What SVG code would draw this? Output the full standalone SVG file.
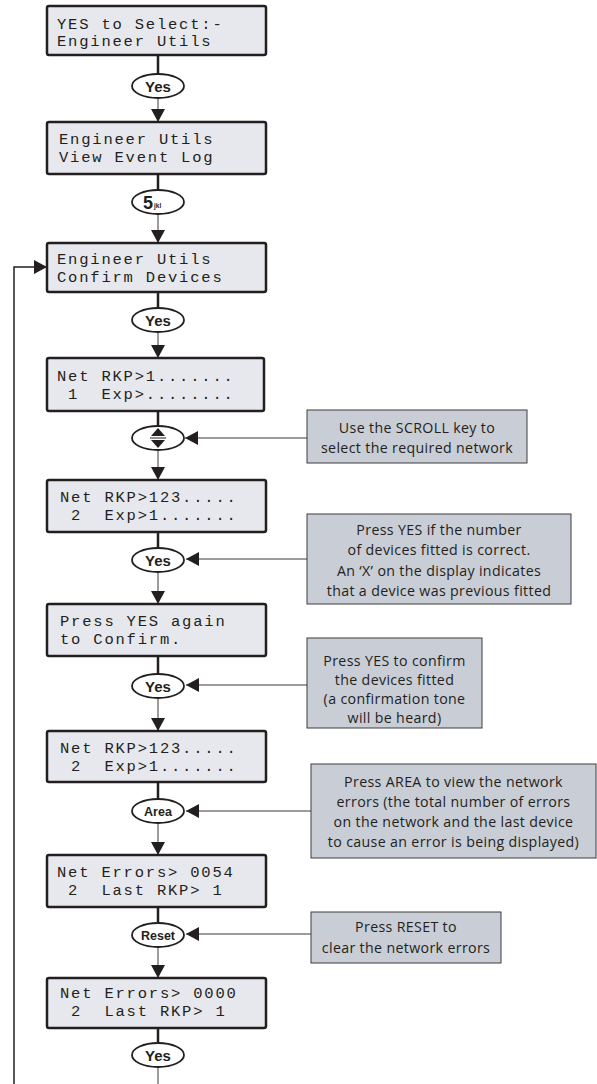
<svg xmlns="http://www.w3.org/2000/svg" width="597" height="1084" viewBox="0 0 597 1084">
<style>
.lcd{fill:#e7e8ed;stroke:#231f20;stroke-width:2.5}
.lcdt{font-family:"Liberation Mono","DejaVu Sans Mono",monospace;font-size:15.5px;letter-spacing:1.8px;fill:#231f20}
.key{fill:#ffffff;stroke:#231f20;stroke-width:1.8}
.keyt{font-family:"Liberation Sans",Arial,sans-serif;font-weight:bold;font-size:15px;fill:#231f20;text-anchor:middle}
.keys{font-family:"Liberation Sans",Arial,sans-serif;font-weight:bold;font-size:12.5px;fill:#231f20;text-anchor:middle}
.note{fill:#c9cdd5;stroke:#3c3c3c;stroke-width:1}
.notet{font-family:"Open Sans","Noto Sans",sans-serif;font-size:14.2px;letter-spacing:0.35px;fill:#231f20;text-anchor:middle}
.thick{stroke:#231f20;stroke-width:2.5;fill:none}
.thin{stroke:#3a3a3a;stroke-width:1;fill:none}
.loop{stroke:#231f20;stroke-width:1.5;fill:none}
</style>
<defs>
<marker id="ah" viewBox="0 0 13 14" refX="13" refY="7" markerUnits="userSpaceOnUse" markerWidth="13" markerHeight="14" orient="auto">
<path d="M0,0 L13,7 L0,14 z" fill="#231f20"/>
</marker>
</defs>
<rect width="597" height="1084" fill="#ffffff"/>

<g id="connectors">
<line class="thick" x1="158" y1="55" x2="158" y2="74"/>
<line class="thin" x1="158" y1="98" x2="158" y2="122" marker-end="url(#ah)"/>
<line class="thick" x1="158" y1="174" x2="158" y2="190"/>
<line class="thin" x1="158" y1="214" x2="158" y2="243" marker-end="url(#ah)"/>
<line class="thick" x1="158" y1="292" x2="158" y2="308"/>
<line class="thin" x1="158" y1="332" x2="158" y2="358" marker-end="url(#ah)"/>
<line class="thick" x1="158" y1="411" x2="158" y2="426"/>
<line class="thin" x1="158" y1="450" x2="158" y2="480" marker-end="url(#ah)"/>
<line class="thick" x1="158" y1="532" x2="158" y2="548"/>
<line class="thin" x1="158" y1="572" x2="158" y2="604" marker-end="url(#ah)"/>
<line class="thick" x1="158" y1="656" x2="158" y2="674"/>
<line class="thin" x1="158" y1="698" x2="158" y2="731" marker-end="url(#ah)"/>
<line class="thick" x1="158" y1="782" x2="158" y2="799"/>
<line class="thin" x1="158" y1="823" x2="158" y2="855" marker-end="url(#ah)"/>
<line class="thick" x1="158" y1="907" x2="158" y2="923"/>
<line class="thin" x1="158" y1="947" x2="158" y2="978" marker-end="url(#ah)"/>
<line class="thick" x1="158" y1="1028" x2="158" y2="1043"/>
<line class="thin" x1="158" y1="1067" x2="158" y2="1084"/>
<polyline class="loop" points="14,1084 14,267 47,267" marker-end="url(#ah)"/>
<line class="thin" x1="307" y1="438" x2="185" y2="438" marker-end="url(#ah)"/>
<line class="thin" x1="307" y1="559" x2="186" y2="559" marker-end="url(#ah)"/>
<line class="thin" x1="307" y1="685" x2="186" y2="685" marker-end="url(#ah)"/>
<line class="thin" x1="311" y1="811" x2="186" y2="811" marker-end="url(#ah)"/>
<line class="thin" x1="311" y1="934" x2="186" y2="934" marker-end="url(#ah)"/>
</g>

<g id="lcd1"><rect class="lcd" x="47" y="6" width="219" height="49" rx="2"/>
<text class="lcdt" x="57" y="29" xml:space="preserve">YES to Select:-</text>
<text class="lcdt" x="57" y="46" xml:space="preserve">Engineer Utils</text></g>

<g id="key1"><ellipse class="key" cx="158" cy="86" rx="26" ry="12"/><text class="keyt" x="158" y="91.5">Yes</text></g>

<g id="lcd2"><rect class="lcd" x="47" y="122" width="219" height="52" rx="2"/>
<text class="lcdt" x="59" y="144" xml:space="preserve">Engineer Utils</text>
<text class="lcdt" x="59" y="162" xml:space="preserve">View Event Log</text></g>

<g id="key2"><ellipse class="key" cx="158" cy="202" rx="26" ry="12"/>
<text x="148" y="208.5" font-family="Liberation Sans, Arial, sans-serif" font-weight="bold" font-size="18" fill="#231f20" text-anchor="middle">5</text>
<text x="154" y="208" font-family="Liberation Sans, Arial, sans-serif" font-weight="bold" font-size="6.5" fill="#231f20">jkl</text></g>

<g id="lcd3"><rect class="lcd" x="47" y="243" width="219" height="49" rx="2"/>
<text class="lcdt" x="57" y="264" xml:space="preserve">Engineer Utils</text>
<text class="lcdt" x="57" y="282" xml:space="preserve">Confirm Devices</text></g>

<g id="key3"><ellipse class="key" cx="158" cy="320" rx="26" ry="12"/><text class="keyt" x="158" y="325.5">Yes</text></g>

<g id="lcd4"><rect class="lcd" x="47" y="358" width="217" height="53" rx="2"/>
<text class="lcdt" x="57" y="381" xml:space="preserve">Net RKP&gt;1.......</text>
<text class="lcdt" x="57" y="399" xml:space="preserve"> 1  Exp&gt;........</text></g>

<g id="key4"><ellipse class="key" cx="158" cy="438" rx="26" ry="12"/>
<path d="M151,436 L158,428 L165,436 z M151,440 L158,448 L165,440 z" fill="#231f20"/>
<line x1="150" y1="438" x2="166" y2="438" stroke="#231f20" stroke-width="1"/></g>

<g id="lcd5"><rect class="lcd" x="47" y="480" width="219" height="52" rx="2"/>
<text class="lcdt" x="60" y="502" xml:space="preserve">Net RKP&gt;123.....</text>
<text class="lcdt" x="60" y="520" xml:space="preserve"> 2  Exp&gt;1.......</text></g>

<g id="key5"><ellipse class="key" cx="158" cy="560" rx="26" ry="12"/><text class="keyt" x="158" y="565.5">Yes</text></g>

<g id="lcd6"><rect class="lcd" x="47" y="604" width="219" height="52" rx="2"/>
<text class="lcdt" x="60" y="626" xml:space="preserve">Press YES again</text>
<text class="lcdt" x="60" y="644" xml:space="preserve">to Confirm.</text></g>

<g id="key6"><ellipse class="key" cx="158" cy="686" rx="26" ry="12"/><text class="keyt" x="158" y="691.5">Yes</text></g>

<g id="lcd7"><rect class="lcd" x="47" y="731" width="219" height="51" rx="2"/>
<text class="lcdt" x="60" y="753" xml:space="preserve">Net RKP&gt;123.....</text>
<text class="lcdt" x="60" y="771" xml:space="preserve"> 2  Exp&gt;1.......</text></g>

<g id="key7"><ellipse class="key" cx="158" cy="811" rx="26" ry="12"/><text class="keys" x="158" y="815.5">Area</text></g>

<g id="lcd8"><rect class="lcd" x="47" y="855" width="219" height="52" rx="2"/>
<text class="lcdt" x="57" y="877" xml:space="preserve">Net Errors&gt; 0054</text>
<text class="lcdt" x="57" y="895" xml:space="preserve"> 2  Last RKP&gt; 1</text></g>

<g id="key8"><ellipse class="key" cx="158" cy="935" rx="26" ry="12"/><text class="keys" x="158" y="939.5">Reset</text></g>

<g id="lcd9"><rect class="lcd" x="47" y="978" width="219" height="50" rx="2"/>
<text class="lcdt" x="60" y="998" xml:space="preserve">Net Errors&gt; 0000</text>
<text class="lcdt" x="60" y="1016" xml:space="preserve"> 2  Last RKP&gt; 1</text></g>

<g id="key9"><ellipse class="key" cx="158" cy="1055" rx="26" ry="12"/><text class="keyt" x="158" y="1060.5">Yes</text></g>

<g id="note1"><rect class="note" x="307" y="410" width="220" height="53"/>
<text class="notet" x="417" y="433">Use the SCROLL key to</text>
<text class="notet" x="417" y="453">select the required network</text></g>

<g id="note2"><rect class="note" x="307" y="514" width="264" height="90"/>
<text class="notet" x="439" y="535">Press YES if the number</text>
<text class="notet" x="439" y="555">of devices fitted is correct.</text>
<text class="notet" x="439" y="576">An ‘X’ on the display indicates</text>
<text class="notet" x="439" y="596">that a device was previous fitted</text></g>

<g id="note3"><rect class="note" x="307" y="638" width="175" height="90"/>
<text class="notet" x="394.5" y="666">Press YES to confirm</text>
<text class="notet" x="394.5" y="685">the devices fitted</text>
<text class="notet" x="394.5" y="704">(a confirmation tone</text>
<text class="notet" x="394.5" y="723">will be heard)</text></g>

<g id="note4"><rect class="note" x="311" y="764" width="285" height="94"/>
<text class="notet" x="453.5" y="787">Press AREA to view the network</text>
<text class="notet" x="453.5" y="807">errors (the total number of errors</text>
<text class="notet" x="453.5" y="827">on the network and the last device</text>
<text class="notet" x="453.5" y="847">to cause an error is being displayed)</text></g>

<g id="note5"><rect class="note" x="311" y="912" width="190" height="51"/>
<text class="notet" x="406" y="932">Press RESET to</text>
<text class="notet" x="406" y="953">clear the network errors</text></g>
</svg>
